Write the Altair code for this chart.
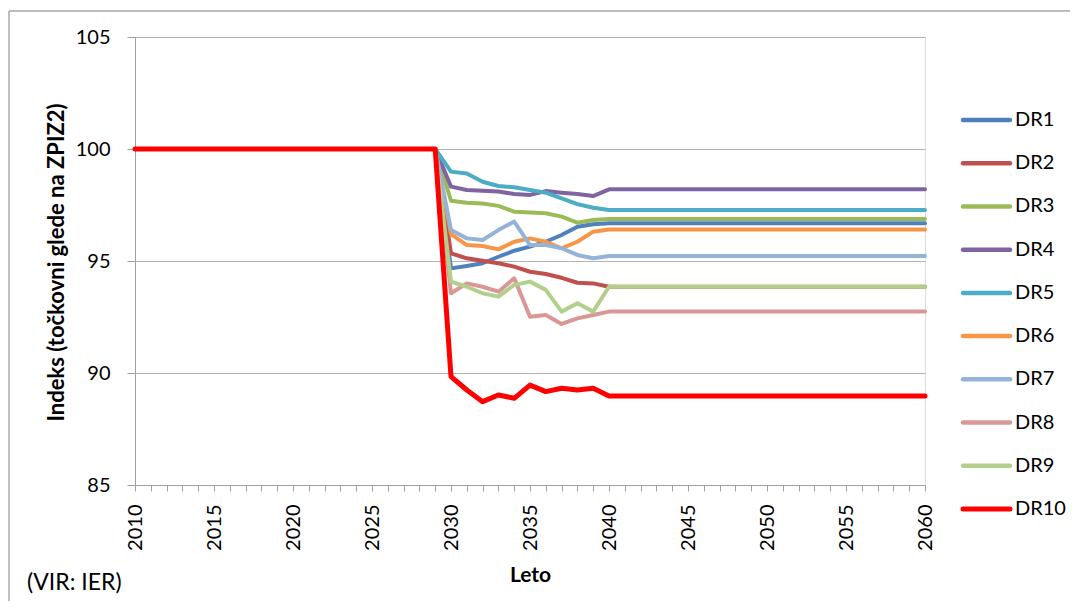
import altair as alt
import pandas as pd

series = ["DR1", "DR2", "DR3", "DR4", "DR5", "DR6", "DR7", "DR8", "DR9", "DR10"]
colors = ["#4F81BD", "#C0504D", "#9BBB59", "#8064A2", "#4BACC6",
          "#F79646", "#95B3D7", "#D99795", "#B3CF8C", "#FF0000"]

years = [2010, 2029, 2030, 2031, 2032, 2033, 2034, 2035, 2036, 2037, 2038, 2039, 2040, 2060]

dr1 = [100, 100, 94.67, 94.78, 94.90, 95.19, 95.46, 95.64, 95.86, 96.16, 96.53, 96.64, 96.68, 96.68]
dr2 = [100, 100, 95.34, 95.12, 95.01, 94.90, 94.75, 94.52, 94.42, 94.25, 94.03, 94.00, 93.85, 93.85]
dr3 = [100, 100, 97.69, 97.60, 97.57, 97.46, 97.20, 97.16, 97.13, 96.98, 96.71, 96.83, 96.88, 96.88]
dr4 = [100, 100, 98.32, 98.17, 98.14, 98.10, 97.99, 97.95, 98.12, 98.05, 97.99, 97.90, 98.20, 98.20]
dr5 = [100, 100, 98.99, 98.91, 98.54, 98.35, 98.29, 98.17, 98.05, 97.80, 97.54, 97.38, 97.28, 97.28]
dr6 = [100, 100, 96.20, 95.71, 95.67, 95.52, 95.86, 96.01, 95.86, 95.57, 95.86, 96.31, 96.41, 96.41]
dr7 = [100, 100, 96.38, 96.01, 95.94, 96.38, 96.76, 95.71, 95.71, 95.57, 95.27, 95.12, 95.22, 95.22]
dr8 = [100, 100, 93.56, 94.00, 93.85, 93.63, 94.23, 92.51, 92.59, 92.19, 92.44, 92.59, 92.74, 92.74]
dr9 = [100, 100, 94.08, 93.85, 93.56, 93.41, 93.93, 94.08, 93.71, 92.74, 93.11, 92.74, 93.85, 93.85]
dr10 = [100, 100, 89.84, 89.24, 88.72, 89.02, 88.87, 89.46, 89.17, 89.32, 89.24, 89.32, 88.97, 88.97]

values = [dr1, dr2, dr3, dr4, dr5, dr6, dr7, dr8, dr9, dr10]

rows = []
for i, (name, vals) in enumerate(zip(series, values)):
    for y, v in zip(years, vals):
        rows.append({"series": name, "order": i, "year": y, "value": v})
df = pd.DataFrame(rows)
leg_df = pd.DataFrame({"series": series, "idx": list(range(len(series)))})

FONT = "Lato"
W, H = 790, 448
color_scale = alt.Scale(domain=series, range=colors)
width_cond = alt.condition(alt.datum.series == "DR10", alt.value(5), alt.value(4))

lines = alt.Chart(df).mark_line(strokeCap="round", strokeJoin="round").encode(
    x=alt.X("year:Q",
            scale=alt.Scale(domain=[2010, 2060], nice=False, zero=False),
            axis=alt.Axis(title="Leto", values=list(range(2010, 2061)),
                          labelExpr="datum.value % 5 == 0 ? datum.value : ''",
                          labelAngle=-90, labelAlign="right", labelBaseline="middle",
                          labelFontSize=20, labelFont=FONT, labelColor="#000000",
                          labelPadding=13, grid=False,
                          tickSize=6, tickColor="#a0a0a0", domainColor="#a0a0a0",
                          titleFont=FONT, titleFontSize=21, titleFontWeight="bold",
                          titleColor="#000000", titleY=90, titleBaseline="middle")),
    y=alt.Y("value:Q",
            scale=alt.Scale(domain=[85, 105], nice=False, zero=False),
            axis=alt.Axis(title="Indeks (točkovni glede na ZPIZ2)",
                          values=[85, 90, 95, 100, 105],
                          labelFontSize=20, labelFont=FONT, labelColor="#000000",
                          labelPadding=17, tickSize=8, tickColor="#a0a0a0",
                          domainColor="#a0a0a0", gridColor="#b4b4b4", gridWidth=1.2,
                          titleFont=FONT, titleFontSize=22, titleFontWeight="bold",
                          titleColor="#000000", titleX=-79, titleY=225,
                          titleAngle=-90, titleAlign="center", titleBaseline="middle")),
    color=alt.Color("series:N", scale=color_scale, sort=series, legend=None),
    order=alt.Order("order:Q"),
    strokeWidth=width_cond,
)

leg_y = alt.Y("idx:Q", scale=alt.Scale(domain=[0, 9], range=[83, 472]), axis=None)

leg_sym = alt.Chart(leg_df).mark_rule(strokeCap="round", clip=False).encode(
    x=alt.value(828), x2=alt.value(875), y=leg_y,
    color=alt.Color("series:N", scale=color_scale, legend=None),
    strokeWidth=alt.condition(alt.datum.series == "DR10", alt.value(5), alt.value(4.5)),
)

leg_txt = alt.Chart(leg_df).mark_text(
    align="left", baseline="middle", font=FONT, fontSize=20, color="#000000", clip=False
).encode(x=alt.value(880), y=leg_y, text="series:N")

src = alt.Chart(pd.DataFrame({"t": ["(VIR: IER)"]})).mark_text(
    align="left", baseline="middle", font=FONT, fontSize=23, color="#000000"
).encode(text="t:N", x=alt.value(-108), y=alt.value(546))

border_left = alt.Chart(pd.DataFrame({"k": [0]})).mark_rule(
    color="#a8a8a8", strokeWidth=1.5, clip=False
).encode(x=alt.value(-126), y=alt.value(-26), y2=alt.value(600))

border_top = alt.Chart(pd.DataFrame({"k": [0]})).mark_rule(
    color="#a8a8a8", strokeWidth=1.5, clip=False
).encode(x=alt.value(-126), x2=alt.value(960), y=alt.value(-26))

chart = alt.layer(lines, leg_sym, leg_txt, src, border_left, border_top).resolve_scale(
    y="independent"
).properties(
    width=W, height=H,
    autosize=alt.AutoSizeParams(type="none"),
    padding={"left": 127, "top": 29, "right": 145, "bottom": 116},
).configure_view(stroke=None).configure(background="#ffffff")

chart.save("out.html", embed_options={"renderer": "svg", "actions": False})
